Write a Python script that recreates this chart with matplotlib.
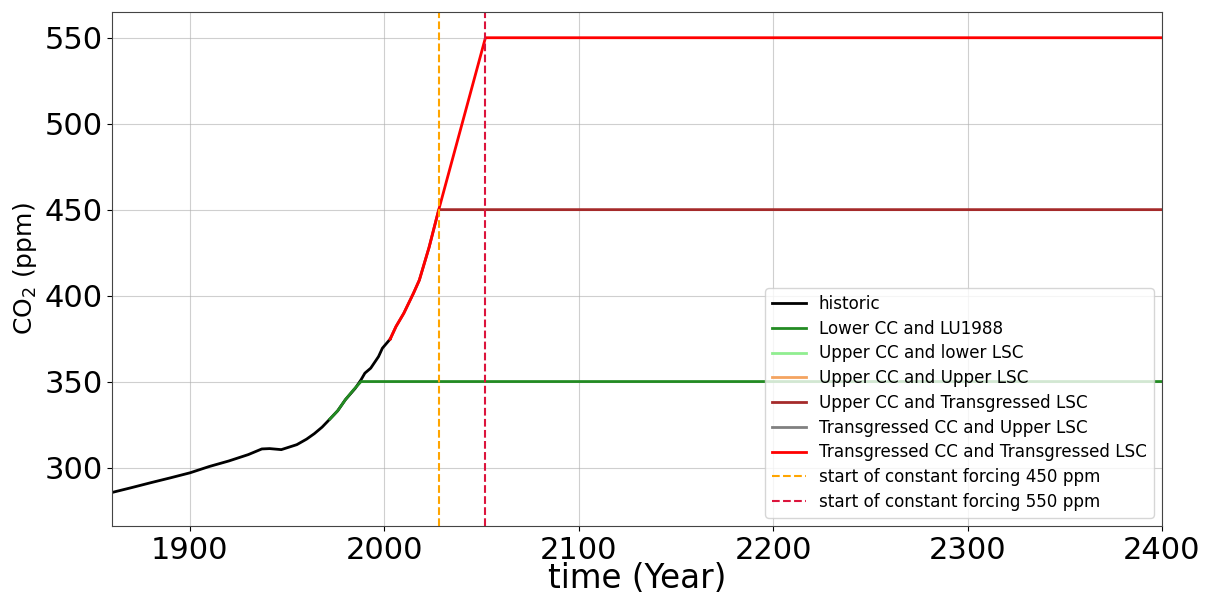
import matplotlib.pyplot as plt

# historic CO2 (ppm)
hist_years = [1860, 1870, 1880, 1890, 1900, 1910, 1920, 1930, 1937, 1941, 1947,
              1955, 1960, 1964, 1968, 1972, 1976, 1980, 1985, 1988, 1990, 1993,
              1997, 1999, 2003]
hist_co2 = [285.5, 288.3, 291.2, 294.0, 296.9, 300.6, 303.8, 307.5, 310.8, 311.0,
            310.4, 313.3, 316.5, 319.7, 323.5, 328.2, 333.0, 339.5, 346.0, 351.0,
            354.9, 357.8, 364.5, 369.4, 374.7]

# Lower CC and LU1988
low_years = [1972, 1976, 1980, 1984, 1988, 2400]
low_co2 = [328.2, 333.0, 339.5, 345.0, 350.0, 350.0]

# Upper CC and Transgressed LSC
utl_years = [2003, 2006, 2010, 2015, 2018, 2023, 2028, 2400]
utl_co2 = [374.7, 382.0, 389.7, 401.4, 409.0, 428.0, 450.0, 450.0]

# Transgressed CC and Transgressed LSC
ttl_years = [2003, 2006, 2010, 2015, 2018, 2023, 2028, 2052, 2400]
ttl_co2 = [374.7, 382.0, 389.7, 401.4, 409.0, 428.0, 450.0, 550.0, 550.0]

start_450 = 2028
start_550 = 2052

fig, ax = plt.subplots(figsize=(12.06, 5.97), dpi=100)
fig.subplots_adjust(left=0.093, right=0.9635, top=0.98, bottom=0.119)

ax.plot(hist_years, hist_co2, color='black', lw=2, label='historic')
ax.plot(low_years, low_co2, color='forestgreen', lw=2, label='Lower CC and LU1988')
ax.plot([], [], color='lightgreen', lw=2, label='Upper CC and lower LSC')
ax.plot([], [], color='sandybrown', lw=2, label='Upper CC and Upper LSC')
ax.plot(utl_years, utl_co2, color='brown', lw=2, label='Upper CC and Transgressed LSC')
ax.plot([], [], color='gray', lw=2, label='Transgressed CC and Upper LSC')
ax.plot(ttl_years, ttl_co2, color='red', lw=2, label='Transgressed CC and Transgressed LSC')
ax.axvline(start_450, color='orange', ls='--', lw=1.5, label='start of constant forcing 450 ppm')
ax.axvline(start_550, color='crimson', ls='--', lw=1.5, label='start of constant forcing 550 ppm')

ax.set_xlim(1860, 2400)
ax.set_ylim(266, 565)
ax.set_yticks([300, 350, 400, 450, 500, 550])
ax.tick_params(labelsize=22)
ax.set_xlabel('time (Year)', fontsize=23.5, labelpad=-2)
ax.set_ylabel('CO$_2$ (ppm)', fontsize=18)
ax.grid(True, alpha=0.6)
for s in ax.spines.values():
    s.set_color('#444444')
ax.legend(loc='lower right', fontsize=12.1, labelspacing=0.4)

plt.savefig('out.png')
